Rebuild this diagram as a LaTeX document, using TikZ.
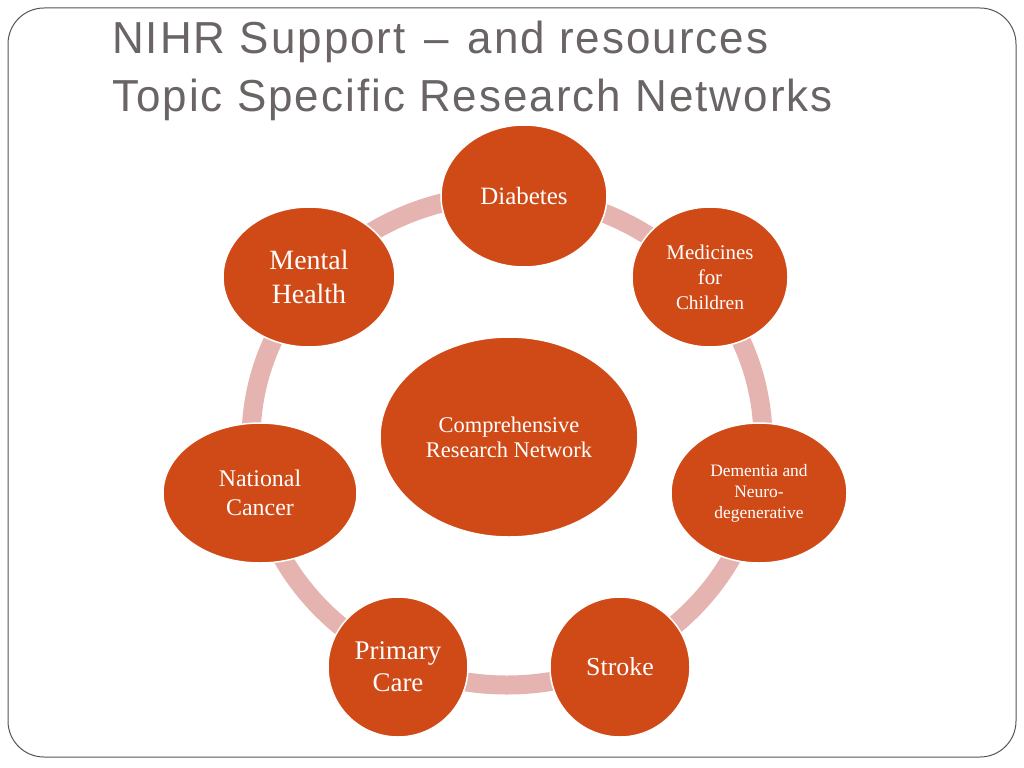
\documentclass[tikz,border=0pt]{standalone}
\usepackage{fontspec}
\usetikzlibrary{shapes.geometric}
\setmainfont{Liberation Serif}
\newfontfamily\titlefont[LetterSpace=4.5,FakeStretch=0.98]{Liberation Sans}
\definecolor{blobfill}{RGB}{208,74,24}
\definecolor{ringcol}{RGB}{230,180,176}
\definecolor{titlegray}{RGB}{106,100,100}
\definecolor{framegray}{RGB}{85,85,85}
\newcommand{\fs}[1]{\fontsize{#1}{1.2\dimexpr #1pt\relax}\selectfont}
\tikzset{
  blob/.style={ellipse, fill=blobfill, draw=white, line width=1.5bp, inner sep=0pt,
    text=white, align=center},
  ringline/.style={draw=ringcol, line width=19bp},
  titletext/.style={anchor=base west, inner sep=0pt, text=titlegray,
    font=\titlefont\fontsize{45}{52}\selectfont},
  frameline/.style={draw=framegray, line width=1bp, rounded corners=36bp}
}
\begin{document}
\begin{tikzpicture}[x=1bp,y=-1bp]
\useasboundingbox (0,0) rectangle (1024,768);
\fill[white] (0,0) rectangle (1024,768);
\draw[frameline] (8,8) rectangle (1016,757);
\node[titletext] (t1) at (112,54) {NIHR Support\hspace{0.1em} – \hspace{0.1em}and resources};
\node[titletext] (t2) at (112,111) {Topic Specific Research Networks};
% ring
\path[ringline] (507,440) ellipse [x radius=256bp, y radius=245bp];
% nodes
\node[blob, minimum width=166bp, minimum height=142bp, font=\fs{25}] (diab) at (524,196) {Diabetes};
\node[blob, minimum width=156bp, minimum height=140bp, font=\fs{21}] (med) at (710,277) {Medicines\\for\\{\fs{19.5}Children}};
\node[blob, minimum width=176bp, minimum height=140bp, font=\fs{17.5}] (dem) at (759,493) {Dementia and\\Neuro-\\degenerative};
\node[blob, minimum width=140bp, minimum height=140bp, font=\fs{26}] (stroke) at (620,667) {Stroke};
\node[blob, minimum width=140bp, minimum height=140bp, font=\fs{27}] (prim) at (398,667) {Primary\\Care};
\node[blob, minimum width=194bp, minimum height=140bp, font=\fs{24}] (nat) at (260,493) {National\\Cancer};
\node[blob, minimum width=172bp, minimum height=140bp, font=\fs{28}] (mh) at (309,277) {Mental\\Health};
\node[blob, minimum width=258bp, minimum height=200bp, font=\fontsize{22.5}{25}\selectfont] (crn) at (509,437) {Comprehensive\\Research Network};
\end{tikzpicture}
\end{document}
